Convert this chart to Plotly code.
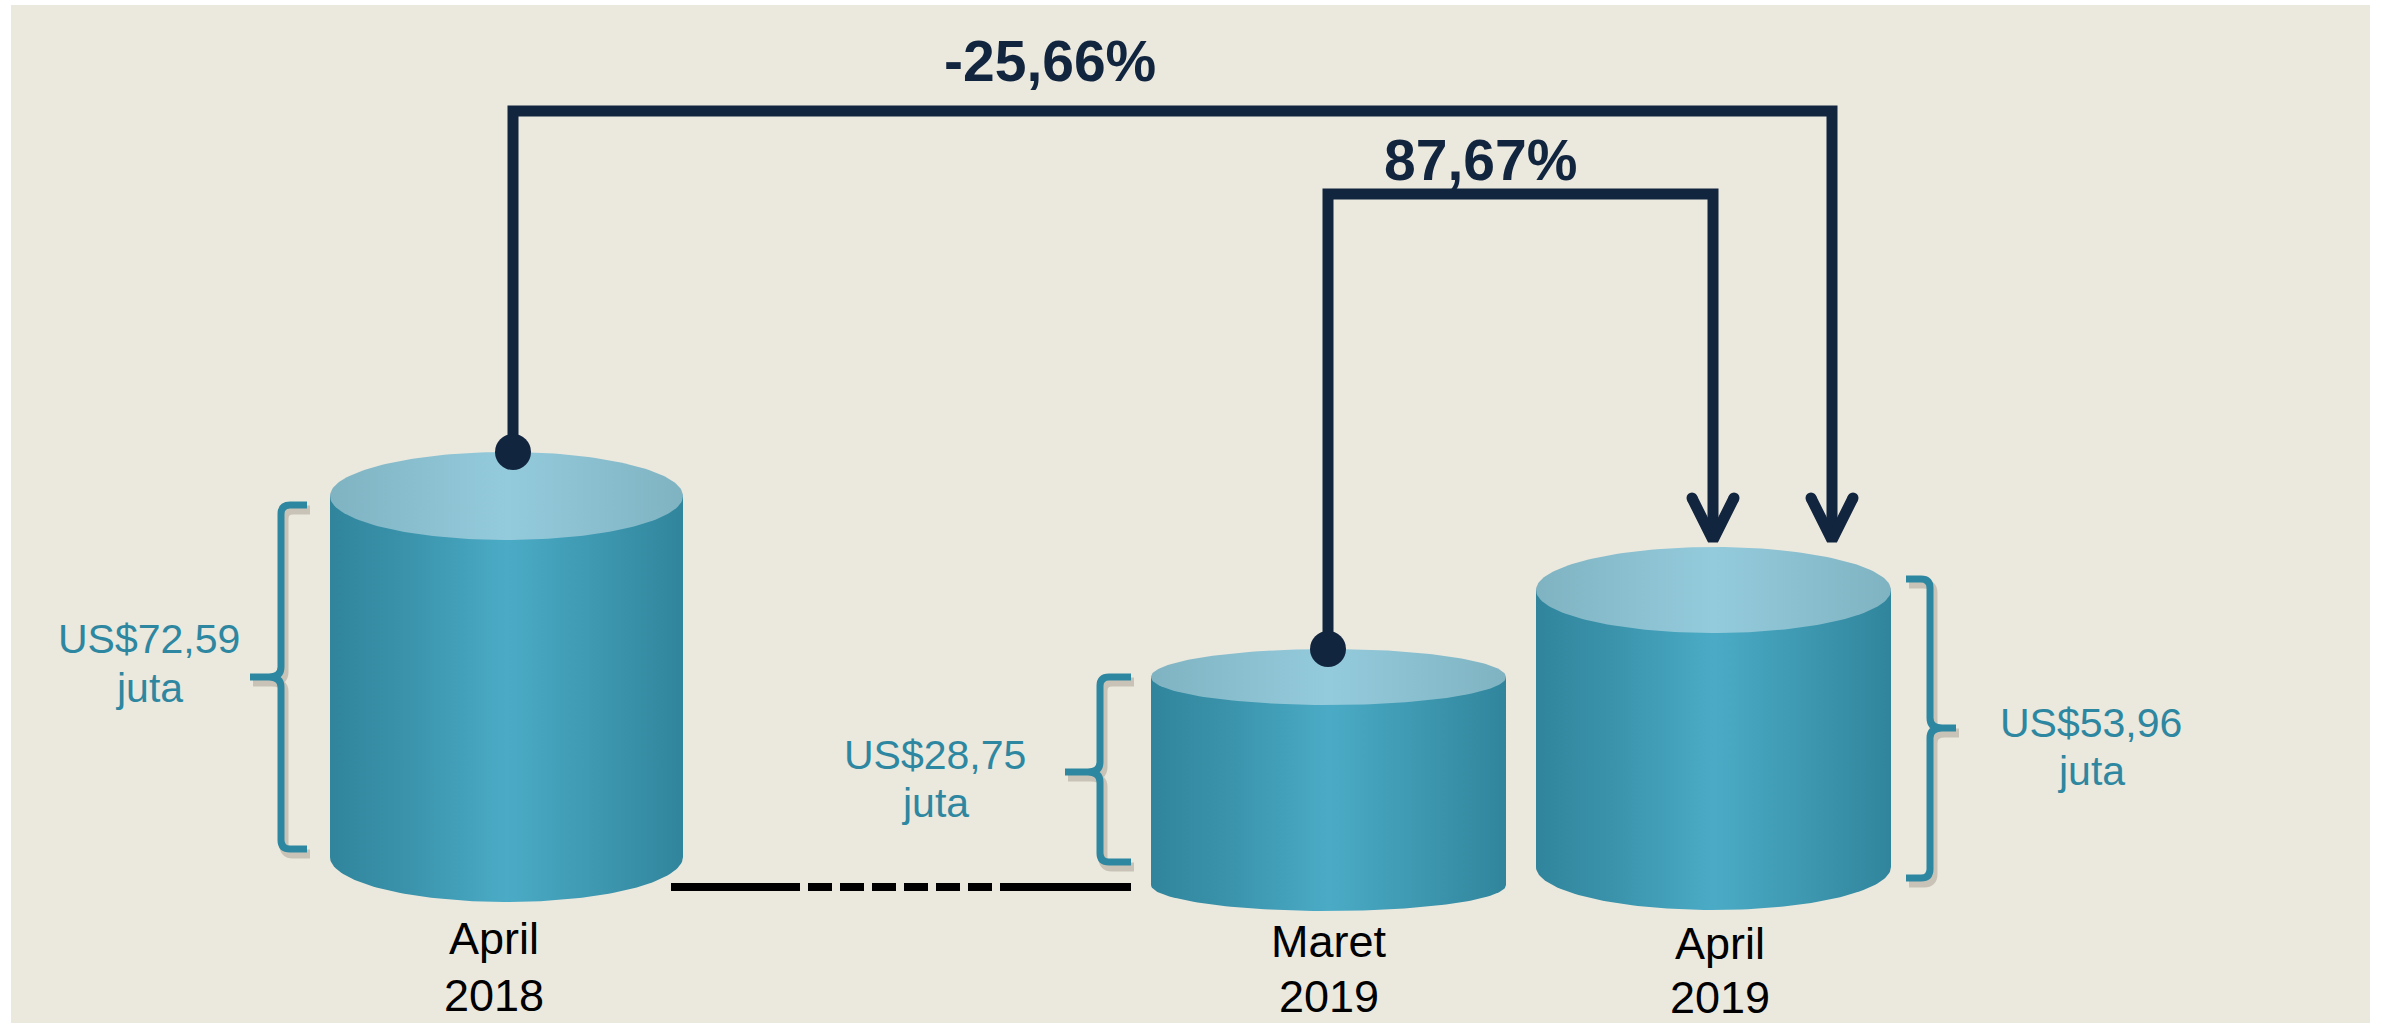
import numpy as np
import plotly.graph_objects as go

# ---------------- data ----------------
cat_month = ["April", "Maret", "April"]
cat_year = ["2018", "2019", "2019"]
values = [72.59, 28.75, 53.96]          # US$ juta
value_unit = "juta"
change_pct = [-25.66, 87.67]            # April 2018 -> April 2019, Maret 2019 -> April 2019

def fmt_usd(v):
    return "US$" + f"{v:.2f}".replace(".", ",")

def fmt_pct(p):
    return f"{p:.2f}".replace(".", ",") + "%"

# ---------------- layout geometry (pixel space) ----------------
W, H = 2381, 1023
BG = "#EBE8DE"
NAVY = "#12253F"
TEAL = "#2E87A0"
FONT = "Liberation Sans"

# cylinder geometry: left, right, top-centre y, bottom y, top ellipse b, bottom ellipse b
cyl_geom = [
    dict(xl=330, xr=683, yt=496, yb=857, bt=44, bb=45),
    dict(xl=1151, xr=1506, yt=677, yb=885, bt=28, bb=26),
    dict(xl=1536, xr=1891, yt=590, yb=867, bt=43, bb=43),
]

body_scale = [[0, "#30859C"], [0.22, "#3A93AB"], [0.5, "#4BABC6"],
              [0.78, "#3C96AE"], [1, "#30859C"]]
top_scale = [[0, "#7FB3C2"], [0.5, "#94CBDC"], [1, "#7FB3C2"]]

fig = go.Figure()

def arc(cx, cy, a, b, t0, t1, n=90):
    t = np.linspace(t0, t1, n)
    return list(cx + a * np.cos(t)), list(cy + b * np.sin(t))

for g in cyl_geom:
    cx = (g["xl"] + g["xr"]) / 2
    a = (g["xr"] - g["xl"]) / 2
    bx, by = arc(cx, g["yb"], a, g["bb"], 0, np.pi)
    xs = [g["xl"], g["xr"]] + bx + [g["xl"]]
    ys = [g["yt"], g["yt"]] + by + [g["yt"]]
    fig.add_trace(go.Scatter(
        x=xs, y=ys, mode="lines", fill="toself", line=dict(width=0),
        fillgradient=dict(type="horizontal", colorscale=body_scale),
        hoverinfo="skip", showlegend=False))
    tx, ty = arc(cx, g["yt"], a, g["bt"], 0, 2 * np.pi, 180)
    fig.add_trace(go.Scatter(
        x=tx, y=ty, mode="lines", fill="toself", line=dict(width=0),
        fillgradient=dict(type="horizontal", colorscale=top_scale),
        hoverinfo="skip", showlegend=False))

# connectors (start dot -> up -> across -> down to arrow tip)
connectors = [
    dict(x0=513, y0=452, ytop=111, x1=1832, ytip=546),
    dict(x0=1328, y0=649, ytop=194, x1=1713, ytip=546),
]
LW = 11
for c in connectors:
    v = c["ytip"] - 6
    fig.add_trace(go.Scatter(
        x=[c["x0"], c["x0"], c["x1"], c["x1"]],
        y=[c["y0"], c["ytop"], c["ytop"], v - 6],
        mode="lines", line=dict(color=NAVY, width=LW),
        hoverinfo="skip", showlegend=False))
    # arrow head
    fig.add_trace(go.Scatter(
        x=[c["x1"] - 21, c["x1"], c["x1"] + 21],
        y=[v - 42, v, v - 42],
        mode="lines", line=dict(color=NAVY, width=LW),
        hoverinfo="skip", showlegend=False))
    fig.add_trace(go.Scatter(
        x=[c["x1"] - 21, c["x1"] + 21], y=[v - 42, v - 42],
        mode="markers", marker=dict(color=NAVY, size=LW, line=dict(width=0)),
        hoverinfo="skip", showlegend=False))
    # start dot
    fig.add_trace(go.Scatter(
        x=[c["x0"]], y=[c["y0"]], mode="markers",
        marker=dict(color=NAVY, size=36, line=dict(width=0)),
        hoverinfo="skip", showlegend=False))

shapes = [dict(type="rect", x0=11, x1=2370, y0=5, y1=H + 5, fillcolor=BG,
               line=dict(width=0), layer="below")]

# braces: vertical line x, arm end x, tick end x, top, middle, bottom
braces = [
    dict(x0=281, xt=307, xm=250, yt=505, ym=677, yb=849),
    dict(x0=1100, xt=1131, xm=1065, yt=677, ym=772, yb=862),
    dict(x0=1930, xt=1906, xm=1956, yt=579, ym=728, yb=878),
]

def brace_path(b, dx=0, dy=0):
    s = 1 if b["xt"] > b["x0"] else -1   # arms point toward the cylinder
    x0, xt, xm = b["x0"] + dx, b["xt"] + dx, b["xm"] + dx
    yt, ym, yb = b["yt"] + dy, b["ym"] + dy, b["yb"] + dy
    r = 9
    k = -s
    p = (f"M {xt},{yt} L {x0 + s*r},{yt} Q {x0},{yt} {x0},{yt + r} "
         f"L {x0},{ym - 10} Q {x0},{ym} {x0 + k*12},{ym} L {xm},{ym} "
         f"M {x0 + k*12},{ym} Q {x0},{ym} {x0},{ym + 10} "
         f"L {x0},{yb - r} Q {x0},{yb} {x0 + s*r},{yb} L {xt},{yb}")
    return p

for b in braces:
    shapes.append(dict(type="path", path=brace_path(b, 3, 5),
                       line=dict(color="rgba(110,100,80,0.28)", width=9), layer="above"))
    shapes.append(dict(type="path", path=brace_path(b),
                       line=dict(color=TEAL, width=7), layer="above"))

# dashed baseline between first and second cylinder
shapes.append(dict(type="line", x0=671, x1=800, y0=887, y1=887,
                   line=dict(color="#000000", width=8)))
shapes.append(dict(type="line", x0=808, x1=992, y0=887, y1=887,
                   line=dict(color="#000000", width=8, dash="24px,8px")))
shapes.append(dict(type="line", x0=1000, x1=1131, y0=887, y1=887,
                   line=dict(color="#000000", width=8)))

annotations = []
def txt(x, y, s, size, color, bold=False):
    annotations.append(dict(
        x=x, y=y, text=(f"<b>{s}</b>" if bold else s), showarrow=False,
        xanchor="center", yanchor="middle",
        font=dict(family=FONT, size=size, color=color)))

# percentage changes
txt(1050, 61, fmt_pct(change_pct[0]), 57, NAVY, bold=True)
txt(1480, 160, fmt_pct(change_pct[1]), 57, NAVY, bold=True)

# value labels (two lines each)
val_pos = [(149, 653, 702), (935, 769, 817), (2091, 737, 785)]
for v, (x, b1, b2) in zip(values, val_pos):
    txt(x, b1 - 14, fmt_usd(v), 41, TEAL)
    txt(x, b2 - 14, value_unit, 41, TEAL)

# category labels
cat_pos = [(494, 953, 1010), (1329, 956, 1011), (1720, 958, 1012)]
for m, yv, (x, b1, b2) in zip(cat_month, cat_year, cat_pos):
    txt(x, b1 - 15, m, 45, "#000000")
    txt(x, b2 - 15, yv, 45, "#000000")

fig.update_layout(
    width=W, height=H, margin=dict(l=0, r=0, t=0, b=0),
    paper_bgcolor="#FFFFFF", plot_bgcolor="rgba(0,0,0,0)",
    xaxis=dict(range=[0, W], visible=False, fixedrange=True),
    yaxis=dict(range=[H, 0], visible=False, fixedrange=True),
    shapes=shapes, annotations=annotations, showlegend=False,
)

fig.write_html(
    "out.html",
    config={"displayModeBar": False},
    post_script="document.body.style.margin='0px';document.body.style.overflow='hidden';",
)
